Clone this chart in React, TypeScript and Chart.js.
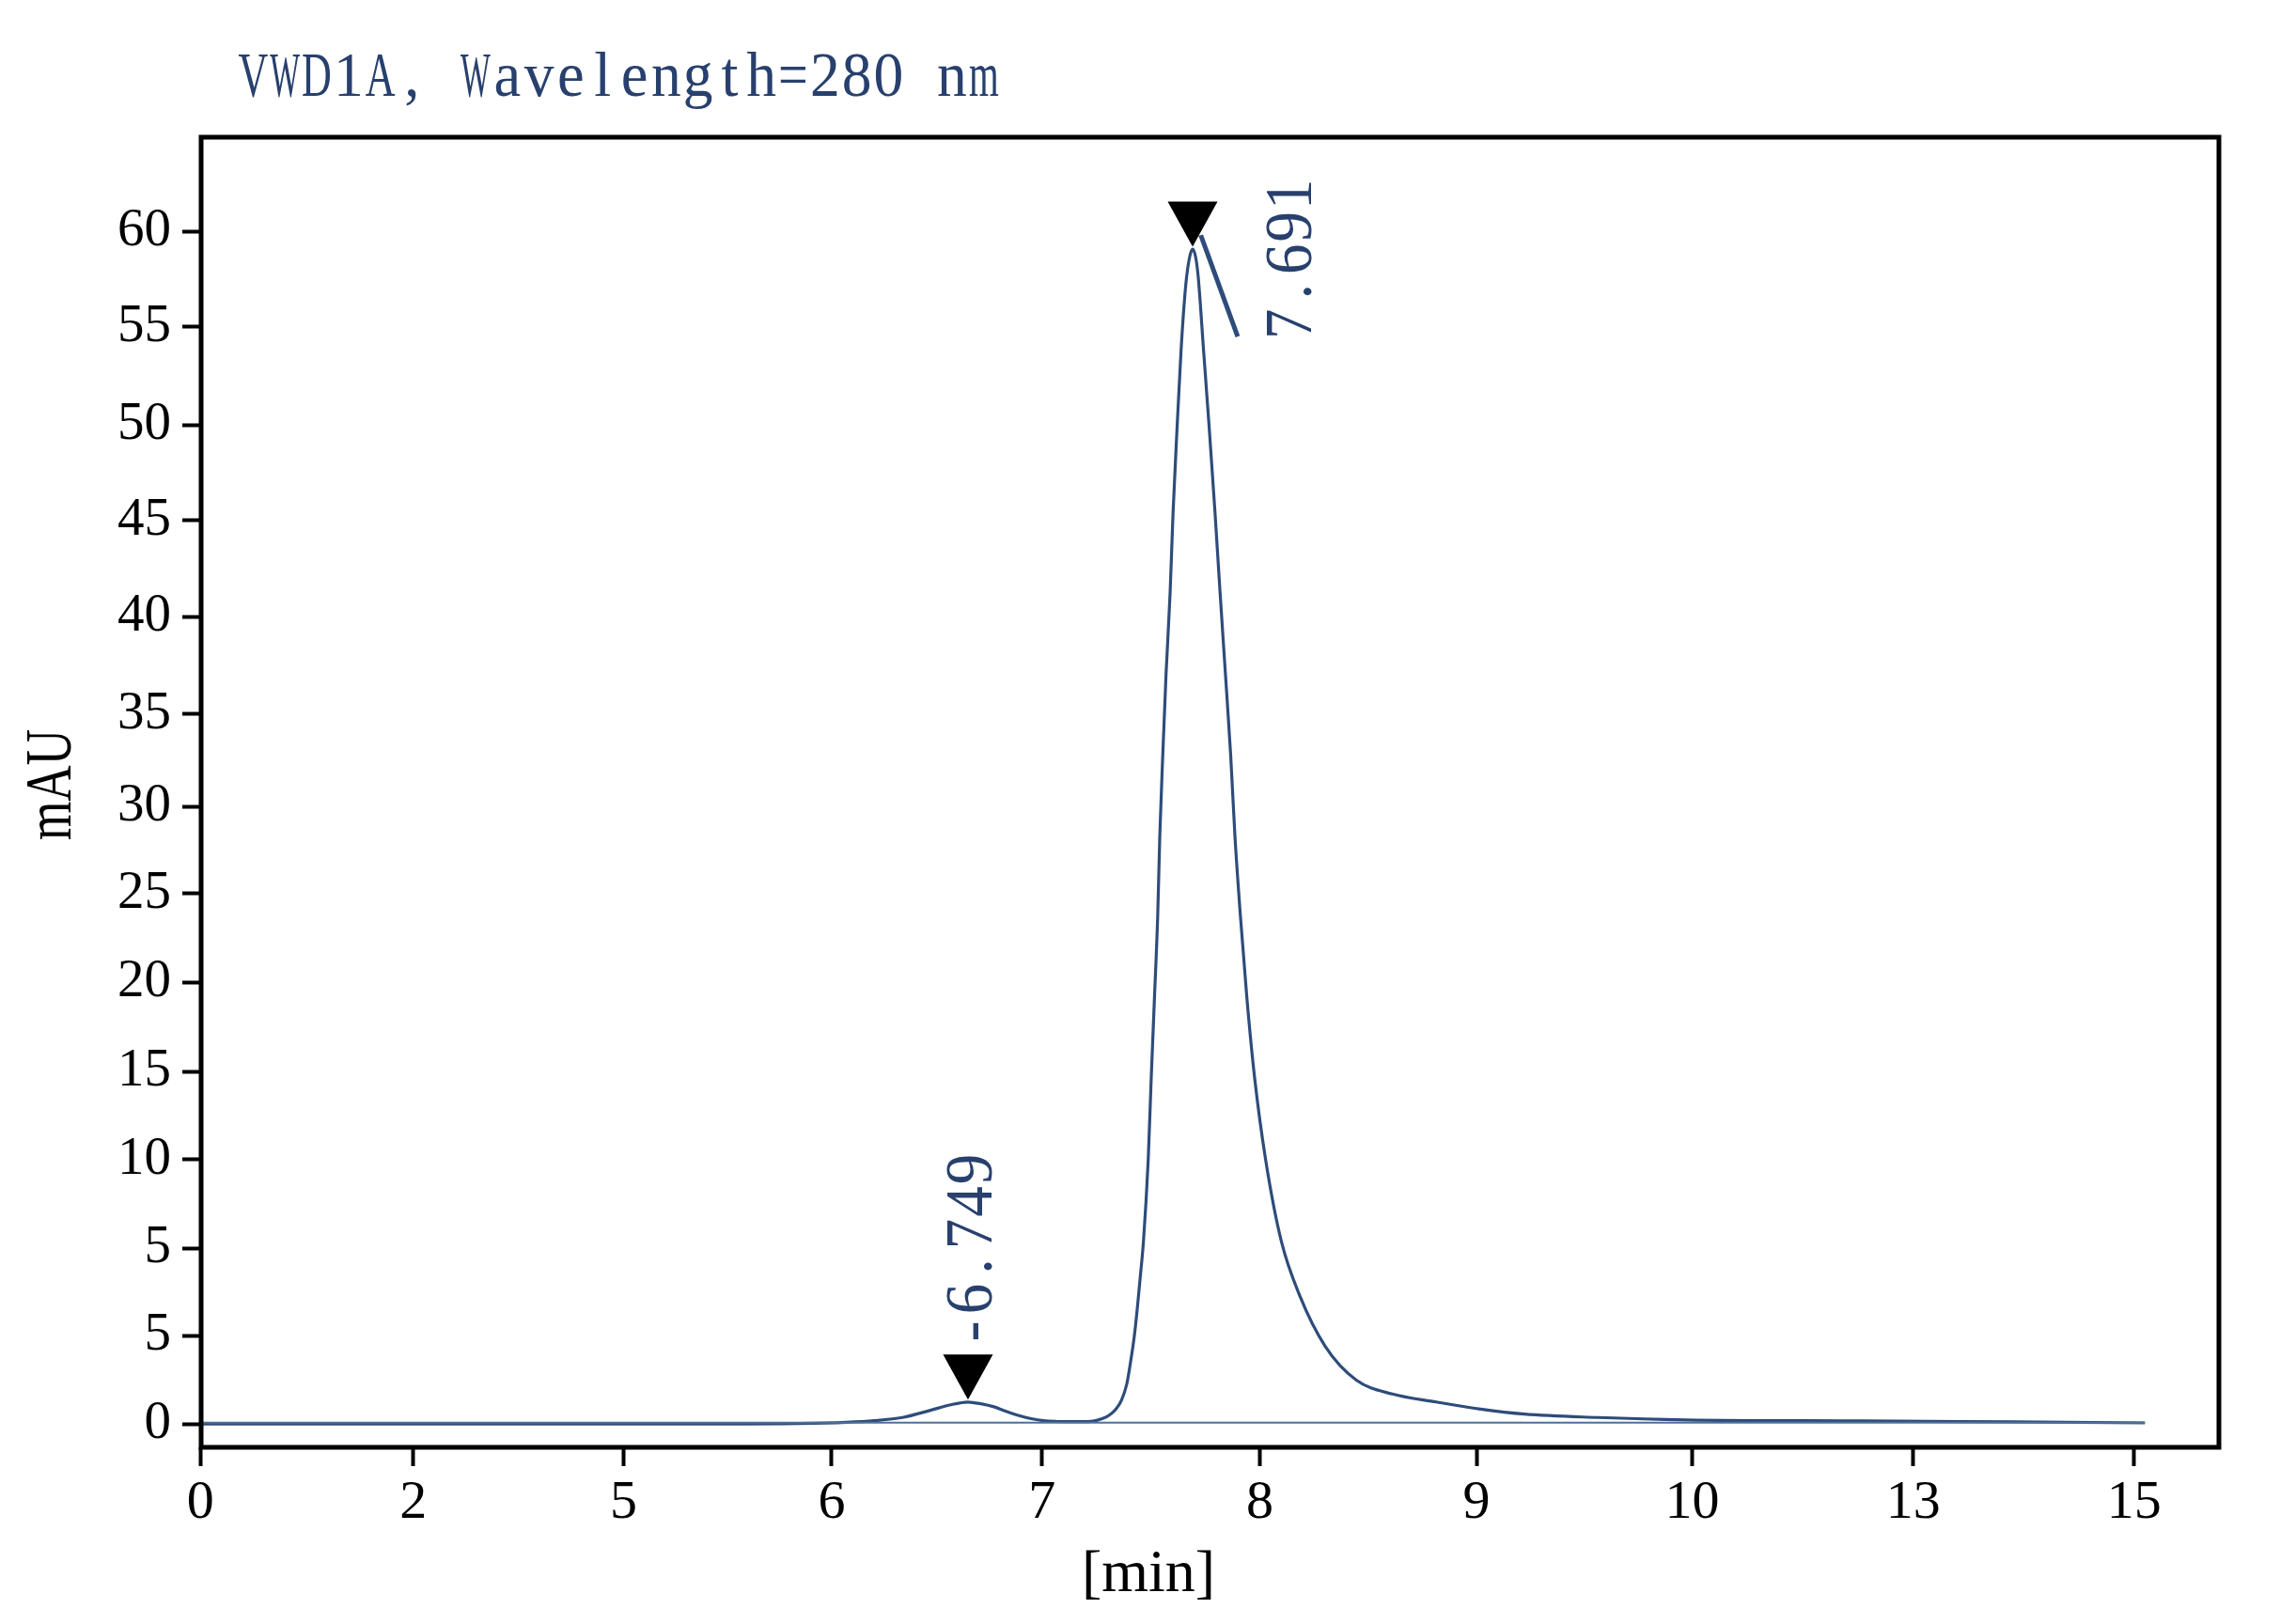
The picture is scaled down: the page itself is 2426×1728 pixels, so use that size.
import { useEffect, useRef } from 'react';
import { Chart, registerables } from 'chart.js';

Chart.register(...registerables);

const titleText = 'VWD1A, Wavelength=280 nm';
const xTitle = '[min]';
const yTitle = 'mAU';

// the axis labels of the original are not evenly spaced, so ticks sit at read-off values
const xTickValues = [3.058, 4.05, 5.03, 6.0, 6.98, 7.995, 9.005, 10.01, 11.04, 12.07];
const xTickLabels = ['0', '2', '5', '6', '7', '8', '9', '10', '13', '15'];
const yTickValues = [0, 4.44, 8.84, 13.29, 17.73, 22.22, 26.67, 31.06, 35.7, 40.61, 45.44, 50.26, 55.18, 60];
const yTickLabels = ['0', '5', '5', '10', '15', '20', '25', '30', '35', '40', '45', '50', '55', '60'];

const signalTimes = [
	3.06, 4.5, 5.5, 5.85, 6.07, 6.2, 6.33, 6.46, 6.55, 6.635, 6.7, 6.752, 6.81, 6.869, 6.93, 6.986,
	7.05, 7.102, 7.16, 7.219, 7.26, 7.292, 7.325, 7.35, 7.375, 7.394, 7.41, 7.424, 7.438, 7.453,
	7.475, 7.489, 7.504, 7.519, 7.529, 7.543, 7.558, 7.577, 7.591, 7.609, 7.628, 7.65, 7.668, 7.682,
	7.696, 7.708, 7.733, 7.76, 7.786, 7.81, 7.835, 7.859, 7.879, 7.905, 7.935, 7.971, 8.022, 8.095,
	8.183, 8.3, 8.445, 8.613, 8.818, 9.024, 9.228, 9.57, 9.98, 10.8, 11.5, 12.12,
];
const signalValues = [
	0, 0, 0, 0.02, 0.08, 0.16, 0.32, 0.68, 0.95, 1.1, 1.0, 0.87, 0.64, 0.43, 0.26, 0.16,
	0.12, 0.11, 0.11, 0.14, 0.26, 0.43, 0.75, 1.18, 2.0, 3.2, 4.4, 5.8, 7.4, 9.2,
	13.3, 17.4, 21.4, 25.5, 29.6, 33.7, 37.7, 41.8, 45.9, 50.0, 54.0, 57.3, 58.7, 59.1,
	58.7, 57.7, 54.0, 50.0, 45.9, 41.8, 37.7, 33.7, 29.6, 25.5, 21.4, 17.4, 13.3, 9.2,
	6.4, 3.9, 2.2, 1.5, 1.1, 0.74, 0.49, 0.32, 0.2, 0.15, 0.1, 0.05,
];

const baselineTimes = [3.06, 12.12];
const baselineValues = [0.06, 0.06];

const tangentTimes = [7.72, 7.892];
const tangentValues = [59.8, 54.7];

const peakTimes = [6.635, 7.682];
const peakHeights = [1.1, 59.1];
const peakLabels = ['-6.749', '7.691'];

const lineColor = '#2e4c7a';
const textColor = '#28406d';

const toPoints = (xs: number[], ys: number[]) => xs.map((x, i) => ({ x, y: ys[i] }));

// serif glyphs set in fixed-width cells, squeezed to fit, like the instrument software's font
const drawMono = (ctx: CanvasRenderingContext2D, text: string, cell: number, maxSqueeze: number) => {
	[...text].forEach((ch, i) => {
		const gw = ctx.measureText(ch).width || 1;
		const s = Math.min(maxSqueeze, (cell * 0.94) / gw);
		ctx.save();
		ctx.translate(i * cell + cell / 2, 0);
		ctx.scale(s, 1);
		ctx.textAlign = 'center';
		ctx.fillText(ch, 0, 0);
		ctx.restore();
	});
};

const drawExtras = {
	id: 'drawExtras',
	afterDraw(chart: any) {
		const { ctx, chartArea: a, scales } = chart;
		const xs = scales.x;
		const ys = scales.y;
		const w = a.right - a.left;
		ctx.save();

		// box round the plot
		ctx.lineWidth = 5;
		ctx.strokeStyle = '#000';
		ctx.strokeRect(a.left, a.top, w, a.bottom - a.top);

		// peak markers and retention times
		const labelOffsets = [
			[25, -58],
			[126, 97],
		];
		peakTimes.forEach((t, i) => {
			const px = xs.getPixelForValue(t);
			const py = ys.getPixelForValue(peakHeights[i]);
			const tip = py - 2.5;
			ctx.fillStyle = '#000';
			ctx.beginPath();
			ctx.moveTo(px - 26.5, tip - 48);
			ctx.lineTo(px + 26.5, tip - 48);
			ctx.lineTo(px, tip);
			ctx.closePath();
			ctx.fill();

			ctx.save();
			ctx.translate(px + labelOffsets[i][0], py + labelOffsets[i][1]);
			ctx.rotate(-Math.PI / 2);
			ctx.font = '72px "Liberation Serif"';
			ctx.fillStyle = textColor;
			ctx.textBaseline = 'alphabetic';
			drawMono(ctx, peakLabels[i], 34.5, 0.92);
			ctx.restore();
		});

		// title
		ctx.save();
		ctx.translate(a.left + 38.5, a.top - 44.5);
		ctx.font = '68px "Liberation Serif"';
		ctx.fillStyle = textColor;
		ctx.textBaseline = 'alphabetic';
		drawMono(ctx, titleText, 33.8, 0.95);
		ctx.restore();

		// axis titles
		ctx.fillStyle = '#000';
		ctx.font = '64px "Liberation Serif"';
		ctx.textAlign = 'center';
		ctx.textBaseline = 'alphabetic';
		ctx.fillText(xTitle, a.left + 0.4695 * w, a.bottom + 153);

		ctx.save();
		ctx.translate(67, (a.top + a.bottom) / 2 - 8);
		ctx.rotate(-Math.PI / 2);
		ctx.scale(0.76, 1);
		ctx.font = '70px "Liberation Serif"';
		ctx.textAlign = 'center';
		ctx.fillText(yTitle, 0, 0);
		ctx.restore();

		ctx.restore();
	},
};

const Chromatogram = () => {
	const chartRef = useRef<HTMLCanvasElement>(null);

	useEffect(() => {
		const ctx = chartRef.current!.getContext('2d')!;

		const chartInstance = new Chart(ctx, {
			type: 'line',
			data: {
				datasets: [
					{
						data: toPoints(baselineTimes, baselineValues),
						borderColor: '#4d719c',
						borderWidth: 2,
						pointRadius: 0,
					},
					{
						data: toPoints(signalTimes, signalValues),
						borderColor: lineColor,
						borderWidth: 3.2,
						pointRadius: 0,
						cubicInterpolationMode: 'monotone',
					},
					{
						data: toPoints(tangentTimes, tangentValues),
						borderColor: lineColor,
						borderWidth: 5,
						pointRadius: 0,
					},
				],
			},
			options: {
				animation: false,
				responsive: true,
				maintainAspectRatio: false,
				layout: {
					padding: { top: 138, right: 57, left: 0, bottom: 0 },
				},
				plugins: {
					legend: { display: false },
					tooltip: { enabled: false },
				},
				scales: {
					x: {
						type: 'linear',
						min: 3.061,
						max: 12.465,
						afterFit: (scale: any) => {
							scale.height = 180;
						},
						afterBuildTicks: (scale: any) => {
							scale.ticks = xTickValues.map((value) => ({ value }));
						},
						border: { display: false },
						grid: {
							drawOnChartArea: false,
							drawTicks: true,
							tickLength: 20,
							tickWidth: 4,
							tickColor: '#000',
						},
						ticks: {
							autoSkip: false,
							maxRotation: 0,
							padding: 5,
							color: '#000',
							font: { family: '"Liberation Serif"', size: 58 },
							callback: (_v: any, i: number) => xTickLabels[i],
						},
					},
					y: {
						type: 'linear',
						min: -1.18,
						max: 64.73,
						afterFit: (scale: any) => {
							scale.width = 206;
						},
						afterBuildTicks: (scale: any) => {
							scale.ticks = yTickValues.map((value) => ({ value }));
						},
						border: { display: false },
						grid: {
							drawOnChartArea: false,
							drawTicks: true,
							tickLength: 20,
							tickWidth: 4,
							tickColor: '#000',
						},
						ticks: {
							autoSkip: false,
							padding: 12,
							color: '#000',
							font: { family: '"Liberation Serif"', size: 57 },
							callback: (_v: any, i: number) => yTickLabels[i],
						},
					},
				},
			},
			plugins: [drawExtras],
		});

		return () => {
			chartInstance.destroy();
		};
	}, []);

	return (
		<div style={{ position: 'relative', width: 2410, height: 1712 }}>
			<canvas ref={chartRef} />
		</div>
	);
};

export default function App() {
	return <Chromatogram />;
}
